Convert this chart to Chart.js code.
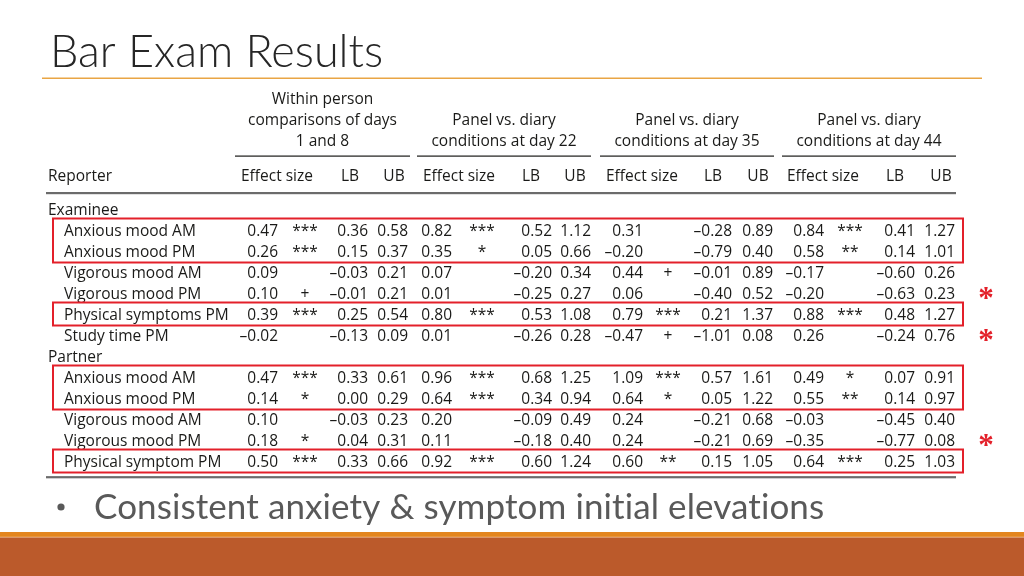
<!DOCTYPE html>
<html lang="en">
<head>
  <meta charset="UTF-8" />
  <title>Bar Exam Results</title>
  <script src="https://cdn.jsdelivr.net/npm/chart.js"></script>
  <style>
    html, body { margin: 0; padding: 0; background: #fff; }
    #wrap { width: 1024px; height: 576px; position: relative; }
  </style>
</head>
<body>
  <div id="wrap"><canvas id="tableChart"></canvas></div>

  <script>
    // ---- data ----
    const conditionTitles = [
      ["Within person", "comparisons of days", "1 and 8"],
      ["Panel vs. diary", "conditions at day 22"],
      ["Panel vs. diary", "conditions at day 35"],
      ["Panel vs. diary", "conditions at day 44"]
    ];
    const columnHeads = ["Effect size", "LB", "UB"];
    const reporterGroups = ["Examinee", "Partner"];
    const examineeMeasures = ["Anxious mood AM", "Anxious mood PM", "Vigorous mood AM", "Vigorous mood PM", "Physical symptoms PM", "Study time PM"];
    const partnerMeasures = ["Anxious mood AM", "Anxious mood PM", "Vigorous mood AM", "Vigorous mood PM", "Physical symptom PM"];

    // rows: 6 examinee then 5 partner
    const effectDay8 = [0.47, 0.26, 0.09, 0.10, 0.39, -0.02, 0.47, 0.14, 0.10, 0.18, 0.50];
    const sigDay8    = ["***", "***", "", "+", "***", "", "***", "*", "", "*", "***"];
    const lbDay8     = [0.36, 0.15, -0.03, -0.01, 0.25, -0.13, 0.33, 0.00, -0.03, 0.04, 0.33];
    const ubDay8     = [0.58, 0.37, 0.21, 0.21, 0.54, 0.09, 0.61, 0.29, 0.23, 0.31, 0.66];

    const effectDay22 = [0.82, 0.35, 0.07, 0.01, 0.80, 0.01, 0.96, 0.64, 0.20, 0.11, 0.92];
    const sigDay22    = ["***", "*", "", "", "***", "", "***", "***", "", "", "***"];
    const lbDay22     = [0.52, 0.05, -0.20, -0.25, 0.53, -0.26, 0.68, 0.34, -0.09, -0.18, 0.60];
    const ubDay22     = [1.12, 0.66, 0.34, 0.27, 1.08, 0.28, 1.25, 0.94, 0.49, 0.40, 1.24];

    const effectDay35 = [0.31, -0.20, 0.44, 0.06, 0.79, -0.47, 1.09, 0.64, 0.24, 0.24, 0.60];
    const sigDay35    = ["", "", "+", "", "***", "+", "***", "*", "", "", "**"];
    const lbDay35     = [-0.28, -0.79, -0.01, -0.40, 0.21, -1.01, 0.57, 0.05, -0.21, -0.21, 0.15];
    const ubDay35     = [0.89, 0.40, 0.89, 0.52, 1.37, 0.08, 1.61, 1.22, 0.68, 0.69, 1.05];

    const effectDay44 = [0.84, 0.58, -0.17, -0.20, 0.88, 0.26, 0.49, 0.55, -0.03, -0.35, 0.64];
    const sigDay44    = ["***", "**", "", "", "***", "", "*", "**", "", "", "***"];
    const lbDay44     = [0.41, 0.14, -0.60, -0.63, 0.48, -0.24, 0.07, 0.14, -0.45, -0.77, 0.25];
    const ubDay44     = [1.27, 1.01, 0.26, 0.23, 1.27, 0.76, 0.91, 0.97, 0.40, 0.08, 1.03];

    const boxedRows = [[0, 1], [4], [6, 7], [10]];   // rows framed in red
    const flaggedRows = [3, 5, 9];                    // rows with the red asterisk
    const bulletText = "Consistent anxiety & symptom initial elevations";

    // ---- layout (pixels on the slide) ----
    const rowGap = 21;
    const firstSlotY = 210;           // y of "Examinee"
    const rowSlot = i => i < 6 ? i + 1 : i + 2;  // leaves room for group labels
    const groupSlots = [0, 7];
    const colX = [
      { eff: 278, sig: 305, lb: 368, ub: 408, head: [277, 350, 394], span: [235, 410] },
      { eff: 452, sig: 482, lb: 552, ub: 591, head: [459, 531, 575], span: [417, 591] },
      { eff: 643, sig: 668, lb: 732, ub: 773, head: [642, 713, 758], span: [600, 774] },
      { eff: 824, sig: 850, lb: 915, ub: 955, head: [823, 895, 941], span: [782, 956] }
    ];
    const tableFont = '15.5px "Open Sans", "Noto Sans", sans-serif';
    const ink = "#1a1a18";

    const conds = [
      [effectDay8, sigDay8, lbDay8, ubDay8],
      [effectDay22, sigDay22, lbDay22, ubDay22],
      [effectDay35, sigDay35, lbDay35, ubDay35],
      [effectDay44, sigDay44, lbDay44, ubDay44]
    ];

    const fmt = v => (v < 0 ? "\u2013" : "") + Math.abs(v).toFixed(2);

    function cellSet(values, x, align, asText) {
      return {
        data: values.map((v, i) => ({ x: x, y: rowSlot(i) })),
        cellText: values.map(v => asText ? v : fmt(v)),
        align: align,
        pointRadius: 0,
        pointHoverRadius: 0
      };
    }

    const datasets = [];
    // row labels
    datasets.push({
      data: examineeMeasures.concat(partnerMeasures).map((m, i) => ({ x: 64, y: rowSlot(i) })),
      cellText: examineeMeasures.concat(partnerMeasures),
      align: "left", pointRadius: 0, pointHoverRadius: 0
    });
    datasets.push({
      data: reporterGroups.map((g, i) => ({ x: 48, y: groupSlots[i] })),
      cellText: reporterGroups,
      align: "left", pointRadius: 0, pointHoverRadius: 0
    });
    conds.forEach((c, k) => {
      const p = colX[k];
      datasets.push(cellSet(c[0], p.eff, "right"));
      datasets.push(cellSet(c[1], p.sig, "center", true));
      datasets.push(cellSet(c[2], p.lb, "right"));
      datasets.push(cellSet(c[3], p.ub, "right"));
    });

    const slidePlugin = {
      id: "slide",
      beforeDraw(chart) {
        const ctx = chart.ctx;
        const y = chart.scales.y;
        ctx.save();
        ctx.fillStyle = "#ffffff";
        ctx.fillRect(0, 0, chart.width, chart.height);

        // title
        ctx.fillStyle = "#262626";
        ctx.font = '300 45px Lato, "Open Sans", sans-serif';
        ctx.textBaseline = "alphabetic";
        ctx.textAlign = "left";
        ctx.fillText("Bar Exam Results", 50, 67);
        ctx.fillStyle = "#e9a544";
        ctx.fillRect(42, 77.5, 940, 1.5);

        // condition headers
        ctx.font = tableFont;
        ctx.fillStyle = ink;
        ctx.textBaseline = "middle";
        conditionTitles.forEach((lines, k) => {
          const p = colX[k];
          const cx = (p.span[0] + p.span[1]) / 2;
          ctx.textAlign = "center";
          const start = lines.length === 3 ? 100 : 121;
          lines.forEach((t, j) => ctx.fillText(t, cx, start + j * 21));
          ctx.fillRect(p.span[0], 155.5, p.span[1] - p.span[0], 1.2);
          columnHeads.forEach((h, j) => ctx.fillText(h, p.head[j], 177));
        });
        ctx.textAlign = "left";
        ctx.fillText("Reporter", 48, 177);

        // rules
        ctx.fillStyle = "#6b6b6b";
        ctx.fillRect(46, 192, 910, 2.2);
        ctx.fillRect(46, y.getPixelForValue(12.72) - 1, 910, 2.2);
        ctx.restore();
      },
      afterDatasetsDraw(chart) {
        const ctx = chart.ctx;
        const y = chart.scales.y;
        ctx.save();
        ctx.font = tableFont;
        ctx.fillStyle = ink;
        ctx.textBaseline = "middle";
        chart.data.datasets.forEach((ds, i) => {
          const meta = chart.getDatasetMeta(i);
          ctx.textAlign = ds.align;
          meta.data.forEach((pt, j) => {
            const t = ds.cellText[j];
            if (t) ctx.fillText(t, pt.x, pt.y + 1);
          });
        });

        // red frames
        ctx.strokeStyle = "#e3202a";
        ctx.lineWidth = 2;
        boxedRows.forEach(rows => {
          const top = y.getPixelForValue(rowSlot(rows[0])) - 12.5;
          const bot = y.getPixelForValue(rowSlot(rows[rows.length - 1])) + 10.5;
          ctx.strokeRect(53, top, 910, bot - top);
        });

        // red asterisks
        ctx.fillStyle = "#e3202a";
        ctx.font = 'bold 31px "Liberation Serif", serif';
        ctx.textAlign = "center";
        ctx.textBaseline = "alphabetic";
        flaggedRows.forEach(r => {
          ctx.fillText("*", 986, y.getPixelForValue(rowSlot(r)) + 14);
        });

        // bullet line
        ctx.fillStyle = "#595959";
        ctx.beginPath();
        ctx.arc(61, 507, 3.6, 0, Math.PI * 2);
        ctx.fill();
        ctx.font = '35px Lato, "Open Sans", sans-serif';
        ctx.letterSpacing = "0.1px";
        ctx.textAlign = "left";
        ctx.fillText(bulletText, 94, 519);
        ctx.letterSpacing = "0px";

        // footer band
        ctx.fillStyle = "#e3861f";
        ctx.fillRect(0, 532, 1024, 5);
        ctx.fillStyle = "#f0a55a";
        ctx.fillRect(0, 536.5, 1024, 1);
        ctx.fillStyle = "#bb5a2b";
        ctx.fillRect(0, 537.5, 1024, 40);
        ctx.restore();
      }
    };

    new Chart(document.getElementById("tableChart"), {
      type: "scatter",
      data: { datasets: datasets },
      options: {
        responsive: true,
        maintainAspectRatio: false,
        animation: false,
        events: [],
        layout: { padding: 0 },
        plugins: { legend: { display: false }, tooltip: { enabled: false } },
        scales: {
          x: { type: "linear", display: false, min: 0, max: 1024 },
          y: {
            type: "linear", display: false, reverse: true,
            min: -firstSlotY / rowGap,
            max: (576 - firstSlotY) / rowGap
          }
        }
      },
      plugins: [slidePlugin]
    });
  </script>
</body>
</html>
